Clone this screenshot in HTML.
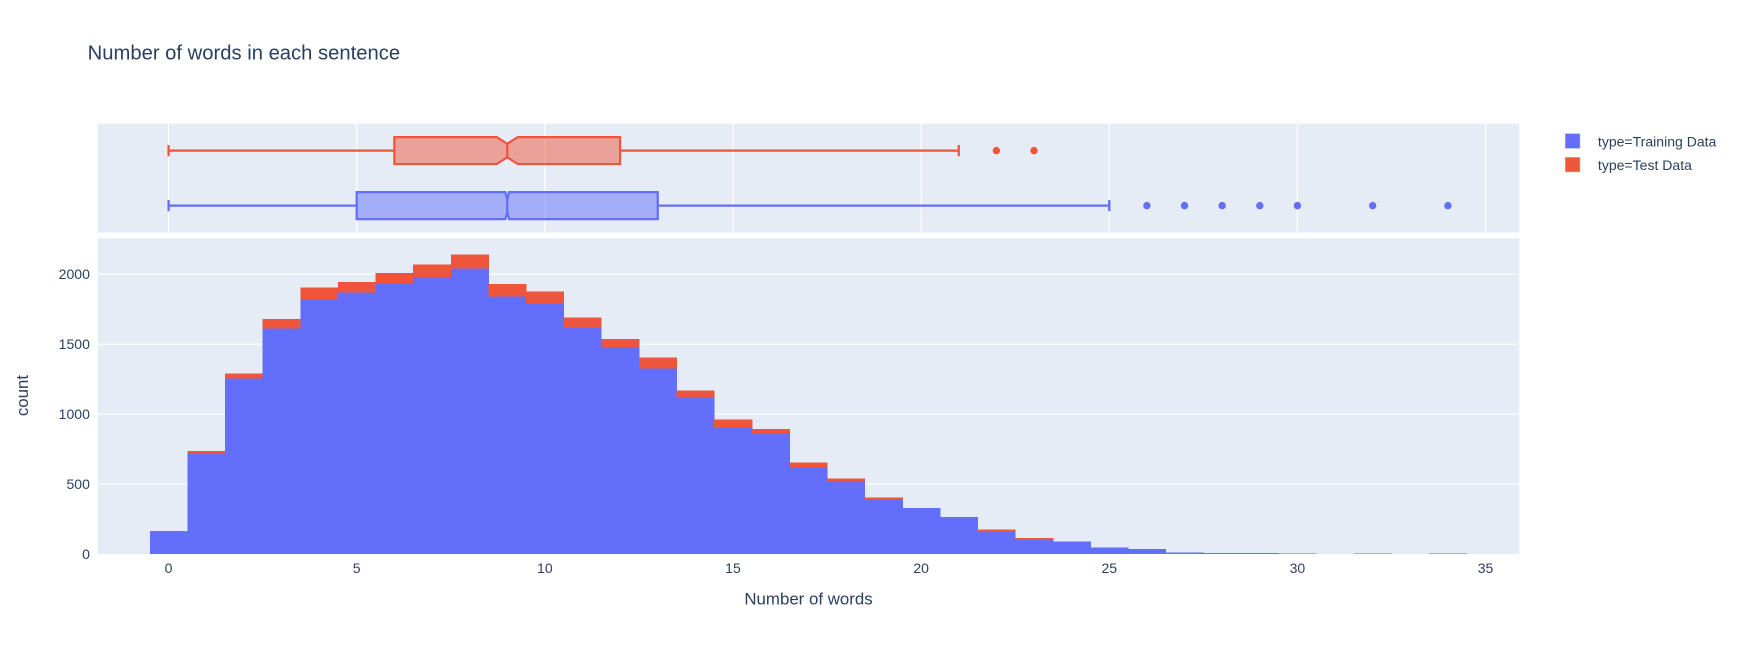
<!DOCTYPE html>
<html><head><meta charset="utf-8"><style>
html,body{margin:0;padding:0;background:#fff}
svg{display:block;font-family:"Liberation Sans",sans-serif}
#bars rect{shape-rendering:crispEdges}
</style></head><body>
<svg id="chart" width="1762" height="654" viewBox="0 0 1568 582" xmlns="http://www.w3.org/2000/svg">
<text x="78" y="53" font-size="18" fill="#2a3f5f">Number of words in each sentence</text>
<rect x="87" y="110" width="1265" height="97" fill="#e5ecf6"/>
<rect x="87" y="212" width="1265" height="281" fill="#e5ecf6"/>
<g id="grid"></g>
<g id="bars"></g>
<g id="boxes"></g>
<g id="ticks"></g>
<text x="719.5" y="538" font-size="15" fill="#2a3f5f" text-anchor="middle">Number of words</text>
<text transform="translate(25,352) rotate(-90)" font-size="15" fill="#2a3f5f" text-anchor="middle">count</text>
<g>
<g>
<rect x="1393" y="119" width="13" height="13" fill="#636efa" stroke="#a0a8fb" stroke-width="0.5"/>
<text x="1422" y="130.5" font-size="12.5" fill="#2a3f5f">type=Training Data</text></g>
<g>
<rect x="1393" y="140" width="13" height="13" fill="#ef553b" stroke="#f5a094" stroke-width="0.5"/>
<text x="1422" y="151.5" font-size="12.5" fill="#2a3f5f">type=Test Data</text></g>
</g>
</svg>
<script>
const bins = [0,1,2,3,4,5,6,7,8,9,10,11,12,13,14,15,16,17,18,19,20,21,22,23,24,25,26,27,28,29,30,31,32,33,34];
const trainCounts = [160,720,1255,1610,1820,1870,1935,1975,2040,1840,1790,1620,1480,1325,1120,905,860,620,520,390,330,265,160,100,90,45,35,10,8,6,4,0,3,0,2];
const testCounts = [4,15,35,70,85,75,75,95,100,90,85,70,55,80,50,55,35,35,20,15,0,0,15,15,0,0,0,0,0,0,0,0,0,0,0];
const xTicks = [0,5,10,15,20,25,30,35];
const yTicks = [0,500,1000,1500,2000];
const trainBox = {min:0,q1:5,median:9,q3:13,max:25,notch:0.05};
const testBox = {min:0,q1:6,median:9,q3:12,max:21,notch:0.28};
const trainOutliers = [26,27,28,29,30,32,34];
const testOutliers = [22,23];

const NS='http://www.w3.org/2000/svg';
const X = v => 150 + v*(1322-150)/35;
const Y = v => 493 - v*(493-244)/2000;
function mk(parent, tag, attrs){const e=document.createElementNS(NS,tag);for(const k in attrs)e.setAttribute(k,attrs[k]);document.getElementById(parent).appendChild(e);return e;}

xTicks.forEach(t=>{
  const g=mk('grid','line',{x1:X(t),x2:X(t),y1:110,y2:207,stroke:'#fff','stroke-width':1});
  
  
  const l=mk('ticks','text',{x:X(t),y:510,'font-size':12.5,fill:'#2a3f5f','text-anchor':'middle'});
  l.textContent=t;
  
  
});
yTicks.forEach(t=>{
  if(t>0){const g=mk('grid','line',{x1:87,x2:1352,y1:Y(t),y2:Y(t),stroke:'#fff','stroke-width':1});
  
  }
  const l=mk('ticks','text',{x:80,y:Y(t)+4.5,'font-size':12.5,fill:'#2a3f5f','text-anchor':'end'});
  l.textContent=t;
  
  
});
bins.forEach((b,i)=>{
  const x0=X(b-0.5), w=X(b+0.5)-x0+0.4;
  if(trainCounts[i]>0){const r=mk('bars','rect',{x:x0,y:Y(trainCounts[i]),width:w,height:Y(0)-Y(trainCounts[i]),fill:'#636efa'});
  
  }
  if(testCounts[i]>0){const top=trainCounts[i]+testCounts[i];
  const r=mk('bars','rect',{x:x0,y:Y(top),width:w,height:Y(trainCounts[i])-Y(top),fill:'#ef553b'});
  
  }
});
function drawBox(b,cy,color,fill,outs,name){
  const h=12, inset=h*0.5;
  const p=[[X(b.q1),cy-h],[X(b.median-b.notch),cy-h],[X(b.median),cy-h+inset],[X(b.median+b.notch),cy-h],[X(b.q3),cy-h],[X(b.q3),cy+h],[X(b.median+b.notch),cy+h],[X(b.median),cy+h-inset],[X(b.median-b.notch),cy+h],[X(b.q1),cy+h]];
  const poly=mk('boxes','polygon',{points:p.map(q=>q.join(',')).join(' '),fill:fill,stroke:color,'stroke-width':2});
  
  
  const med=mk('boxes','line',{x1:X(b.median),x2:X(b.median),y1:cy-h+inset,y2:cy+h-inset,stroke:color,'stroke-width':2});
  
  
  [[b.min,b.q1],[b.q3,b.max]].forEach(s=>{const l=mk('boxes','line',{x1:X(s[0]),x2:X(s[1]),y1:cy,y2:cy,stroke:color,'stroke-width':2});
  
  });
  [b.min,b.max].forEach(v=>{const l=mk('boxes','line',{x1:X(v),x2:X(v),y1:cy-5,y2:cy+5,stroke:color,'stroke-width':2});
  
  });
  outs.forEach(v=>{const c=mk('boxes','circle',{cx:X(v),cy:cy,r:3.3,fill:color});
  
  });
}
drawBox(testBox,134,'#ef553b','rgba(239,85,59,0.5)',testOutliers,'test');
drawBox(trainBox,183,'#636efa','rgba(99,110,250,0.5)',trainOutliers,'training');
</script>
</body></html>
